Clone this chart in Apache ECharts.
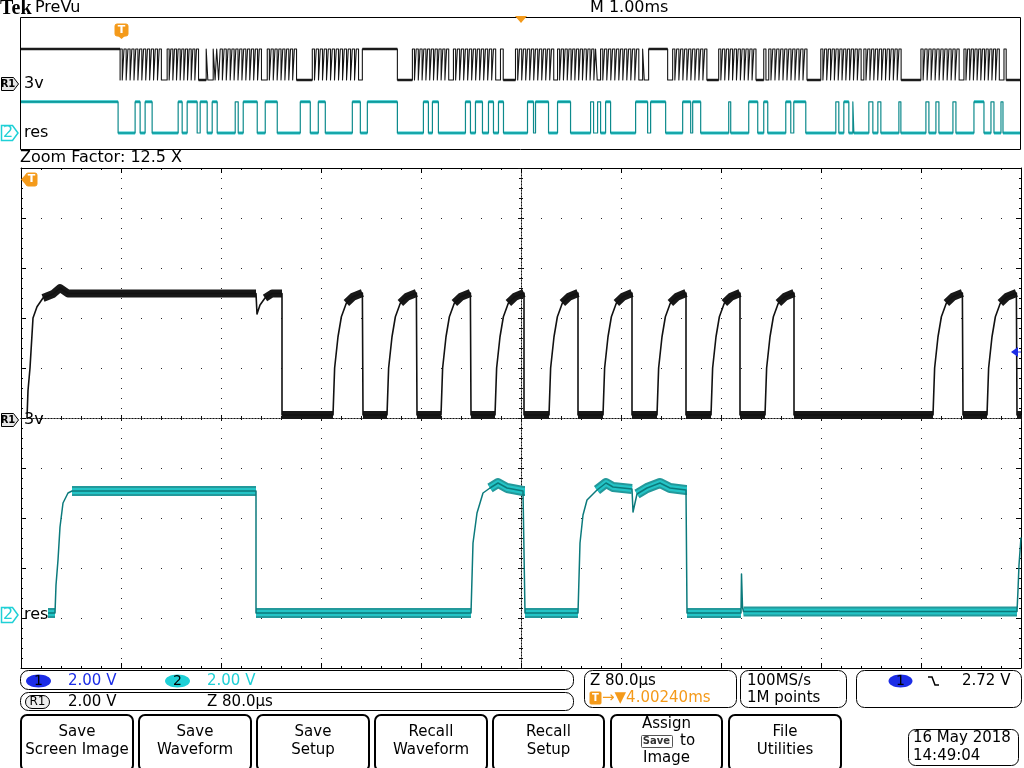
<!DOCTYPE html>
<html><head><meta charset="utf-8">
<script src="https://cdn.jsdelivr.net/npm/echarts@6/dist/echarts.min.js"></script>
<style>html,body{margin:0;padding:0;background:#fff}#c{width:1024px;height:768px}</style>
</head><body><div id="c"></div><script>
// ===== PreVu window: 10 ms record, time in ms, amplitude in V =====
const previewBlackLevelsV = [0.1, 5.0];
const previewCyanLevelsV = [0.08, 5.0];
const previewBlackHighFlatsMs = [[0,1.00],[3.42,3.77],[6.28,6.47]];
// [start ms, end ms, number of pulses in the burst]
const previewBlackBurstsMs = [
  [1.00,1.43,11],[1.47,1.80,9],[1.86,1.89,1],[1.93,2.00,2],[2.00,2.43,11],[2.47,2.78,8],[2.92,3.40,12],
  [3.92,4.30,10],[4.33,4.73,10],[4.73,4.77,1],[4.80,4.85,1],[4.95,5.35,10],[5.37,5.75,10],[5.75,5.78,1],
  [5.80,6.20,10],[6.22,6.25,1],[6.52,6.88,9],[6.98,7.37,10],[7.43,7.47,1],[7.48,7.88,10],[8.00,8.42,11],
  [8.43,8.82,10],[9.00,9.40,10],[9.43,9.80,10],[9.83,9.87,1]
];
const previewCyanHighMs = [
  [0,0.98],[1.15,1.20],[1.25,1.32],[1.58,1.62],[1.67,1.77],[1.80,1.87],[1.92,1.97],[2.15,2.18],[2.23,2.37],
  [2.45,2.57],[2.80,2.90],[2.98,3.05],[3.32,3.40],[3.47,3.77],[4.03,4.08],[4.12,4.18],[4.45,4.50],[4.55,4.62],
  [4.68,4.73],[4.78,4.83],[5.07,5.13],[5.15,5.28],[5.37,5.50],[5.70,5.73],[5.77,5.80],[5.85,5.90],[6.15,6.27],
  [6.30,6.45],[6.62,6.70],[6.72,6.80],[7.08,7.10],[7.28,7.37],[7.43,7.47],[7.65,7.70],[7.73,7.85],[8.15,8.18],
  [8.23,8.28],[8.32,8.33],[8.48,8.52],[8.57,8.60],[8.78,8.80],[9.05,9.08],[9.15,9.18],[9.32,9.35],[9.53,9.63],
  [9.70,9.73],[9.80,9.82]
];
const previewEndMs = 10;

// ===== Zoomed main window: 80 us/div (0..800 us), 2 V/div =====
const mainRangeUs = [0, 800];
const mainIntervalUs = 80;
const voltRange = [-10, 10];
const voltInterval = 2;
const blackLowV = 0.12;
const blackHighV = 5.0;
// first long pulse of the "3v" reference trace [us, V]
const blackFirstPulse = [
  [4.8,0.0],[5.6,1.1],[7.2,2.0],[9.6,4.0],[12.8,4.45],[17.6,4.8],[25.6,4.96],[31.2,5.2],[37.6,4.98],
  [188,4.98],[188.8,4.16],[191.2,4.52],[195.2,4.8],[200.8,4.98],[208.8,4.98],[208.8,0.12]
];
const blackRiseUs = [249.6,292.8,336,379.2,422.4,465.6,508.8,552,595.2,729.6,772.8];
const blackFallUs = [273.6,316.8,360,402.4,445.6,488.8,532,575.2,618.4,753.6,796.8];
// measured RC rising edge: [us after edge, V]
const blackRiseShape = [[0,0.12],[1.3,2.0],[4,3.25],[6.7,4.05],[10.7,4.6],[16,4.85],[23.5,5.0]];
// "res" channel 2 trace [us, V]
const cyanMain = [
  [21.6,0.08],[27.2,0.08],[28,1.2],[29.6,2.2],[31.2,3.52],[33.6,4.48],[37.6,4.88],[40.8,4.96],[188,4.96],[188,0.08],
  [360,0.08],[361.6,2.88],[364.8,4.08],[369.6,4.88],[375.2,5.08],[381.6,5.28],[388.8,5.08],[401.6,4.96],[403.2,4.96],[403.2,0.08],
  [445.6,0.08],[447.2,2.88],[449.6,4.0],[452.8,4.6],[460.8,5.0],[468,5.28],[473.6,5.12],[488.8,5.04],[489.6,4.12],
  [492.8,4.84],[500.8,5.08],[511.2,5.28],[519.2,5.08],[532,5.0],[532.8,5.0],[532.8,0.08],
  [576,0.08],[576.4,1.64],[577.2,0.3],[578,0.14],[796.8,0.14],[797.6,1.0],[798.4,2.0],[800,3.1]
];
const cyanHighRanges = [[40.8,188],[375.2,403.2],[460.8,488.8],[492.8,532.8]];
const cyanLowRanges = [[21.6,27.2],[188,360],[403.2,445.6],[532.8,576],[578,796.8]];

// ===== build traces =====
function squareTrace(intervals, lo, hi, end) {
  const pts = [];
  intervals.forEach(([a,b]) => {
    if (a > 0) pts.push([a, lo]);
    pts.push([a, hi], [b, hi], [b, lo]);
  });
  pts.push([end, lo]);
  return pts;
}
function flats(pts, minDt) {
  const out = [];
  for (let i = 1; i < pts.length; i++) {
    const p = pts[i-1], q = pts[i];
    if (p[1] === q[1] && q[0] - p[0] >= minDt) out.push(p, q, [q[0], '-']);
  }
  return out;
}
function pick(pts, ranges, wantHigh) {
  const out = [];
  ranges.forEach(([a,b]) => {
    pts.forEach(p => {
      if (p[0] >= a && p[0] <= b && (wantHigh ? p[1] > 2.5 : p[1] < 2.5)) out.push(p);
    });
    out.push([b, '-']);
  });
  return out;
}

const blackIntervals = previewBlackHighFlatsMs.map(x => x.slice());
previewBlackBurstsMs.forEach(([a,b,n]) => {
  const p = (b - a) / n;
  for (let i = 0; i < n; i++) blackIntervals.push([a + i*p, a + i*p + 0.55*p]);
});
blackIntervals.sort((u,v) => u[0] - v[0]);
const previewBlack = squareTrace(blackIntervals, previewBlackLevelsV[0], previewBlackLevelsV[1], previewEndMs);
const previewCyan = squareTrace(previewCyanHighMs, previewCyanLevelsV[0], previewCyanLevelsV[1], previewEndMs);

const blackMain = blackFirstPulse.map(p => p.slice());
blackRiseUs.forEach((r,i) => {
  const f = blackFallUs[i];
  blackMain.push([r, blackLowV]);
  blackRiseShape.forEach(([dt,v]) => { if (dt > 0 && dt < f - r) blackMain.push([r + dt, v]); });
  blackMain.push([f, blackHighV], [f, blackLowV]);
});
blackMain.push([mainRangeUs[1], blackLowV]);
const blackHighRanges = [[17.6,188],[195.2,208.8]].concat(blackRiseUs.map((r,i) => [r + 10.7, blackFallUs[i]]));
const fallsAll = [208.8].concat(blackFallUs);
const risesAll = blackRiseUs.concat([mainRangeUs[1]]);
const blackLowRanges = fallsAll.map((f,i) => [f, risesAll[i]]);
const blackBand = pick(blackMain, blackHighRanges, true).concat(pick(blackMain, blackLowRanges, false));
const cyanBand = pick(cyanMain, cyanHighRanges, true).concat(pick(cyanMain, cyanLowRanges, false));

// ===== chart =====
const F = '"DejaVu Sans", "Noto Sans", sans-serif';
const ORANGE = '#f49a1a', BLUE = '#1c2de6', CYAN = '#1fd0d6';
const hidden = {type:'value', show:false, splitLine:{show:false}};
function borderAxis(extra) {
  return Object.assign({
    type:'value', gridIndex:1,
    axisLabel:{show:false},
    axisLine:{show:true, onZero:false, lineStyle:{color:'#000', width:1}},
    axisTick:{show:true, inside:true, length:5, lineStyle:{color:'#000'}},
    minorTick:{show:true, splitNumber:5, length:2, lineStyle:{color:'#000'}},
    splitLine:{show:false}
  }, extra);
}
function centerAxis(extra, inside) {
  return Object.assign({
    type:'value', gridIndex:1,
    axisLabel:{show:false},
    axisLine:{show:true, onZero:false, lineStyle:{color:'#111', width:1, type:[1,2]}},
    axisTick:{show:true, inside:inside, length:3, lineStyle:{color:'#111'}},
    minorTick:{show:true, splitNumber:5, length:2, lineStyle:{color:'#111'}},
    splitLine:{show:false}
  }, extra);
}
const xMain = {min:mainRangeUs[0], max:mainRangeUs[1], interval:mainIntervalUs};
const yMain = {min:voltRange[0], max:voltRange[1], interval:voltInterval};

function txt(x, y, text, o) {
  o = o || {};
  return {type:'text', x:x, y:y, z:110, style:{text:text, font:o.font || ('15px ' + F), fill:o.fill || '#000',
    align:o.align || 'left', verticalAlign:'middle', textAlign:o.align || 'left', textVerticalAlign:'middle'}};
}
function rect(x, y, w, h, r, st, z) {
  return {type:'rect', z:z || 90, shape:{x:x, y:y, width:w, height:h, r:r}, style:Object.assign({fill:'none', stroke:'#000', lineWidth:1}, st)};
}
function poly(points, st) { return {type:'polygon', z:101, shape:{points:points}, style:st}; }
function r1Marker(cy) {
  return [poly([[1.5,cy-6.5],[13.5,cy-6.5],[18.5,cy],[13.5,cy+6.5],[1.5,cy+6.5]], {fill:'#e6e6e6', stroke:'#000', lineWidth:1}),
    txt(8, cy, 'R1', {font:'bold 10px ' + F, align:'center'}), txt(24, cy, '3v', {font:'16px ' + F})];
}
function ch2Marker(cy) {
  return [poly([[1.5,cy-7.5],[12.5,cy-7.5],[18,cy],[12.5,cy+7.5],[1.5,cy+7.5]], {fill:'#fff', stroke:CYAN, lineWidth:1.5}),
    txt(8, cy, '2', {fill:CYAN, align:'center', font:'16px ' + F}), txt(24, cy, 'res', {font:'16px ' + F})];
}
function button(x, w, lines) {
  const out = [rect(x, 715, w, 56, 6, {lineWidth:2})];
  const cx = x + w / 2;
  lines.forEach(([t, y]) => out.push(txt(cx, y, t, {align:'center'})));
  return out;
}

const graphic = [].concat(
  [txt(0, 9, 'Tek', {font:'bold 20px "Liberation Serif", "DejaVu Serif", serif'}),
   txt(35, 8, 'PreVu', {font:'16px ' + F}),
   txt(590, 8, 'M 1.00ms', {font:'16px ' + F}),
   rect(20.5, 17.5, 1000, 132, 0, {}),
   poly([[515,16],[527,16],[521,23]], {fill:ORANGE}),
   rect(115, 24, 13, 12, 2, {fill:ORANGE, stroke:ORANGE}, 101),
   poly([[118,36],[125,36],[121.5,39]], {fill:ORANGE}),
   txt(121.5, 30, 'T', {font:'bold 11px ' + F, fill:'#fff', align:'center'}),
   txt(20, 158, 'Zoom Factor: 12.5 X', {font:'16px ' + F}),
   rect(26, 173, 11, 13, 2, {fill:ORANGE, stroke:ORANGE}, 101),
   poly([[26,174],[26,185],[21,179.5]], {fill:ORANGE}),
   txt(31.5, 179.5, 'T', {font:'bold 11px ' + F, fill:'#fff', align:'center'}),
   poly([[1011,352],[1018,347],[1018,357]], {fill:BLUE}),
   {type:'line', z:101, shape:{x1:1017, y1:352, x2:1021, y2:352}, style:{stroke:BLUE, lineWidth:1}}
  ],
  r1Marker(84), ch2Marker(133), r1Marker(420), ch2Marker(615),
  [
   // channel status rows
   rect(20.5, 670.5, 553, 19, 8, {}), rect(20.5, 692.5, 553, 18, 8, {}),
   {type:'ellipse', z:100, shape:{cx:38.5, cy:681, rx:12.5, ry:6.5}, style:{fill:BLUE}},
   txt(38.5, 681, '1', {font:'14px ' + F, align:'center'}),
   txt(68, 681, '2.00 V', {fill:BLUE}),
   {type:'ellipse', z:100, shape:{cx:177.5, cy:681, rx:12.5, ry:6.5}, style:{fill:CYAN}},
   txt(177.5, 681, '2', {font:'14px ' + F, align:'center'}),
   txt(207, 681, '2.00 V', {fill:CYAN}),
   rect(25.5, 695.5, 24, 13, 6.5, {fill:'#eee'}, 100),
   txt(37.5, 702, 'R1', {font:'12px ' + F, align:'center'}),
   txt(68, 702, '2.00 V'),
   txt(207, 702, 'Z 80.0µs'),
   rect(584.5, 670.5, 152, 37, 8, {}),
   txt(590, 681, 'Z 80.0µs'),
   rect(590, 692, 11, 12, 1, {fill:ORANGE, stroke:ORANGE}, 100),
   txt(595.5, 698, 'T', {font:'bold 10px ' + F, fill:'#fff', align:'center'}),
   txt(602, 698, '→▼4.00240ms', {fill:ORANGE}),
   rect(740.5, 670.5, 106, 37, 8, {}),
   txt(747, 681, '100MS/s'),
   txt(747, 698, '1M points'),
   rect(856.5, 670.5, 165, 37, 8, {}),
   {type:'ellipse', z:100, shape:{cx:900.5, cy:681, rx:12, ry:6.5}, style:{fill:BLUE}},
   txt(900.5, 681, '1', {font:'14px ' + F, align:'center'}),
   {type:'polyline', z:100, shape:{points:[[928,677],[932,677],[935,685],[939,685]]}, style:{stroke:'#000', lineWidth:1.5, fill:null}},
   txt(962, 681, '2.72 V')
  ],
  button(21, 112, [['Save',732],['Screen Image',750]]),
  button(139, 112, [['Save',732],['Waveform',750]]),
  button(257, 112, [['Save',732],['Setup',750]]),
  button(375, 112, [['Recall',732],['Waveform',750]]),
  button(493, 111, [['Recall',732],['Setup',750]]),
  button(611, 111, [['Assign',724],['Image',758]]),
  button(729, 112, [['File',732],['Utilities',750]]),
  [
   rect(641.5, 735.5, 31, 12, 1, {fill:'#fff', stroke:'#555'}, 100),
   txt(656.5, 741, 'Save', {font:'bold 10px ' + F, align:'center', fill:'#333'}),
   txt(680, 741, 'to'),
   rect(908.5, 729.5, 110, 36, 7, {}),
   txt(913, 738, '16 May 2018'),
   txt(913, 756, '14:49:04')
  ]
);

const lineS = (x, y, data, color, width, z) => ({
  type:'line', xAxisIndex:x, yAxisIndex:y, data:data, showSymbol:false, symbol:'none',
  connectNulls:false, animation:false, silent:true, z:z || 2,
  lineStyle:{color:color, width:width, cap:'butt', join:'round'}
});

const option = {
  animation:false,
  backgroundColor:'#fff',
  grid:[
    {left:20, top:17, width:1001, height:132},
    {left:21, top:168, width:1000, height:500}
  ],
  xAxis:[
    Object.assign({}, hidden, {gridIndex:0, min:0, max:previewEndMs}),
    borderAxis(Object.assign({position:'bottom',
      splitLine:{show:true, lineStyle:{color:'#222', width:1, type:[1,9]}}}, xMain)),
    borderAxis(Object.assign({position:'top'}, xMain)),
    centerAxis(Object.assign({position:'bottom', offset:-250}, xMain), true),
    centerAxis(Object.assign({position:'bottom', offset:-250}, xMain), false)
  ],
  yAxis:[
    Object.assign({}, hidden, {gridIndex:0, min:-10.8, max:10.05}),
    Object.assign({}, hidden, {gridIndex:0, min:-2.45, max:18.4}),
    borderAxis(Object.assign({position:'left',
      splitLine:{show:true, lineStyle:{color:'#222', width:1, type:[1,19]}}}, yMain)),
    borderAxis(Object.assign({position:'right'}, yMain)),
    centerAxis(Object.assign({position:'left', offset:-500}, yMain), true),
    centerAxis(Object.assign({position:'left', offset:-500}, yMain), false),
    Object.assign({}, hidden, {gridIndex:1, min:-2.12, max:17.88})
  ],
  series:[
    lineS(0, 1, flats(previewCyan, 0.04), '#22c4c8', 3, 2),
    lineS(0, 1, previewCyan, '#0d8a8c', 1.2, 3),
    lineS(0, 0, flats(previewBlack, 0.06), '#222', 2.5, 4),
    lineS(0, 0, previewBlack, '#151515', 1.1, 5),
    lineS(1, 6, cyanBand, '#23999b', 10, 2),
    lineS(1, 6, cyanBand, '#24c4c6', 6, 3),
    lineS(1, 6, cyanMain, '#0b7a7c', 1.5, 4),
    lineS(1, 2, blackBand, '#181818', 8, 5),
    lineS(1, 2, blackMain, '#111', 1.6, 6)
  ],
  graphic:graphic
};
const chart = echarts.init(document.getElementById('c'), null, {renderer:'canvas'});
chart.setOption(option);
</script></body></html>
